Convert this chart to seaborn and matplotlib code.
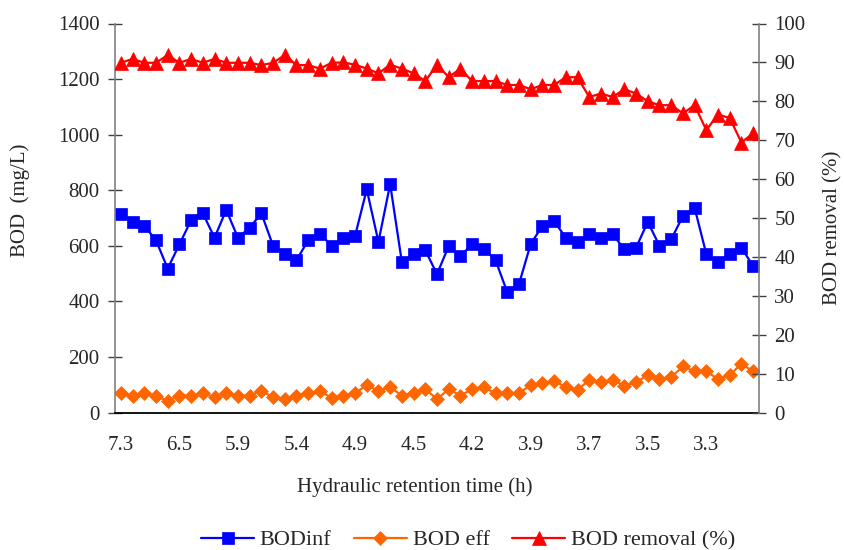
import numpy as np
import pandas as pd
import seaborn as sns
import matplotlib.pyplot as plt

# HRT labels shown every 5th sample
hrt_labels = ["7.3", "6.5", "5.9", "5.4", "4.9", "4.5", "4.2", "3.9", "3.7", "3.5", "3.3"]

# BOD influent (mg/L)
bod_inf = [715, 686, 672, 620, 518, 605, 692, 717, 629, 729,
           629, 665, 717, 600, 570, 548, 620, 644, 600, 629,
           635, 803, 614, 822, 541, 570, 584, 498, 599, 563,
           606, 590, 548, 433, 462, 606, 672, 689, 629, 614,
           642, 629, 642, 587, 593, 686, 600, 623, 707, 737,
           570, 542, 570, 593, 527]

# BOD effluent (mg/L)
bod_eff = [69, 61, 69, 61, 41, 61, 61, 69, 55, 69,
           61, 61, 78, 55, 48, 61, 69, 78, 52, 61,
           69, 99, 78, 91, 61, 69, 84, 48, 84, 61,
           84, 91, 69, 69, 69, 99, 105, 114, 91, 81,
           117, 111, 117, 97, 108, 135, 120, 127, 166, 148,
           148, 120, 135, 175, 148]

# BOD removal (%)
bod_removal = [89.9, 90.9, 89.9, 89.9, 91.9, 89.9, 90.9, 89.9, 90.9, 89.9,
               89.9, 89.9, 89.3, 89.9, 91.9, 89.3, 89.3, 88.4, 89.9, 90.0,
               89.4, 88.4, 87.2, 89.4, 88.4, 87.2, 85.2, 89.4, 86.2, 88.4,
               85.2, 85.2, 85.2, 84.2, 84.2, 83.1, 84.2, 84.2, 86.2, 86.2,
               81.1, 82.0, 81.1, 83.1, 82.0, 80.0, 79.0, 79.0, 76.9, 79.0,
               72.6, 76.6, 75.7, 69.4, 71.8]

sns.set_style("white")
plt.rcParams['font.family'] = ['Liberation Serif', 'DejaVu Serif']
FS = 15

df = pd.DataFrame({
    "sample": np.arange(len(bod_inf)),
    "BODinf": bod_inf,
    "BOD eff": bod_eff,
    "BOD removal (%)": bod_removal,
})

W, H = 844, 550
fig = plt.figure(figsize=(W / 100, H / 100), dpi=100)
left, right, top, bottom = 115, 759, 23.5, 412.5
ax = fig.add_axes([left / W, 1 - bottom / H, (right - left) / W, (bottom - top) / H])
ax2 = ax.twinx()

sns.lineplot(data=df, x="sample", y="BODinf", ax=ax, color="#0000ff", marker="s",
             markersize=8.5, markeredgecolor="#0000ff", markeredgewidth=0.5,
             linewidth=1.6, label="BODinf", legend=False)
sns.lineplot(data=df, x="sample", y="BOD eff", ax=ax, color="#ff6600", marker="D",
             markersize=7.5, markeredgecolor="#ff6600", markeredgewidth=0.5,
             linewidth=1.6, label="BOD eff", legend=False)
sns.lineplot(data=df, x="sample", y="BOD removal (%)", ax=ax2, color="#ff0000", marker="^",
             markersize=9.5, markeredgecolor="#ff0000", markeredgewidth=0.5,
             linewidth=1.6, label="BOD removal (%)", legend=False)

n = len(bod_inf)
for a in (ax, ax2):
    a.set_xlim(-0.5, n - 0.5)
    a.set_xlabel("")
    a.set_ylabel("")
    a.spines["top"].set_visible(False)

ax.set_ylim(0, 1400)
ax.set_yticks(range(0, 1401, 200))
ax2.set_ylim(0, 100)
ax2.set_yticks(range(0, 101, 10))

ax.set_xticks(range(0, n, 5))
ax.set_xticklabels(hrt_labels)
ax.set_xticks(np.arange(-0.5, n, 5), minor=True)
ax.tick_params(axis="x", which="major", length=0, pad=17, labelsize=FS)
ax.tick_params(axis="x", which="minor", direction="inout", length=10, width=1.2, color="black")
ax.tick_params(axis="y", direction="inout", length=10, width=1, color="#404040", pad=6, labelsize=FS)
ax2.tick_params(axis="y", direction="inout", length=10, width=1, color="#404040", pad=6, labelsize=FS)

ax.spines["bottom"].set_color("black")
ax.spines["bottom"].set_linewidth(1.3)
ax2.spines["bottom"].set_visible(False)
for a in (ax, ax2):
    a.spines["left"].set_color("#808080")
    a.spines["right"].set_color("#808080")
    a.spines["left"].set_linewidth(1.2)
    a.spines["right"].set_linewidth(1.2)
ax2.spines["left"].set_visible(False)
ax.spines["right"].set_visible(False)

fig.text(20 / W, 1 - 200 / H, "BOD  (mg/L)", rotation=90, ha="center", va="center", fontsize=FS)
fig.text(833 / W, 1 - 228 / H, "BOD removal (%)", rotation=90, ha="center", va="center", fontsize=FS)
fig.text(415 / W, 1 - 487 / H, "Hydraulic retention time (h)", ha="center", va="center", fontsize=FS)

h1, l1 = ax.get_legend_handles_labels()
h2, l2 = ax2.get_legend_handles_labels()
fig.legend(h1 + h2, l1 + l2, loc="center", bbox_to_anchor=(468 / W, 1 - 540 / H), ncol=3,
           frameon=False, fontsize=16, handlelength=2.4, handletextpad=0.25, columnspacing=1.0)

fig.savefig("out.png", dpi=100)
